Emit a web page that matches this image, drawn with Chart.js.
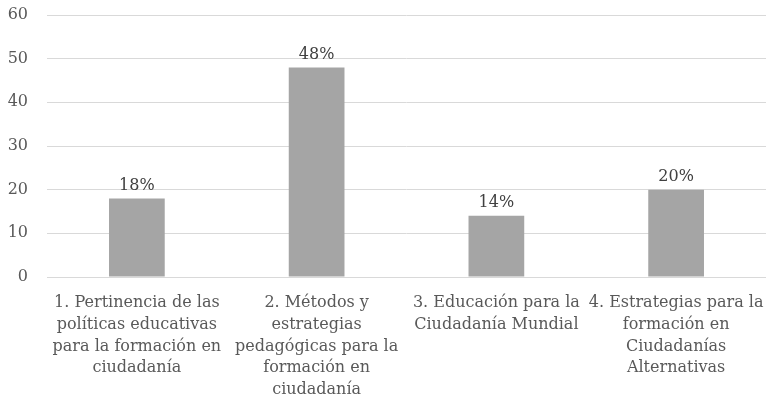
<!DOCTYPE html>
<html>
<head>
<meta charset="utf-8">
<script src="https://cdn.jsdelivr.net/npm/chart.js@4"></script>
<style>
  body { margin: 0; background: #fff; }
  #wrap { width: 766px; height: 419px; }
</style>
</head>
<body>
<div id="wrap"><canvas id="grafico"></canvas></div>
<script>
const categorias = [
    ['1. Pertinencia de las', 'políticas educativas', 'para la formación en', 'ciudadanía'],
    ['2. Métodos y', 'estrategias', 'pedagógicas para la', 'formación en', 'ciudadanía'],
    ['3. Educación para la', 'Ciudadanía Mundial'],
    ['4. Estrategias para la', 'formación en', 'Ciudadanías', 'Alternativas']
];
const valores = [18, 48, 14, 20];
const etiquetas = ['18%', '48%', '14%', '20%'];
const ticksY = [0, 10, 20, 30, 40, 50, 60];

const fuente = "'DejaVu Serif', 'Liberation Serif', serif";

// etiquetas encima das barras
const rotulos = {
    id: 'rotulos',
    afterDatasetsDraw(chart) {
        const { ctx } = chart;
        const meta = chart.getDatasetMeta(0);
        ctx.save();
        ctx.font = '16px ' + fuente;
        ctx.fillStyle = '#404040';
        ctx.textAlign = 'center';
        ctx.textBaseline = 'bottom';
        meta.data.forEach((bar, i) => {
            ctx.fillText(etiquetas[i], bar.x, bar.y - 5);
        });
        ctx.restore();
    }
};

const semPadding = s => {
    s.paddingTop = 0; s.paddingBottom = 0;
    s.paddingLeft = 0; s.paddingRight = 0;
};

const ctx = document.getElementById('grafico').getContext('2d');
new Chart(ctx, {
    type: 'bar',
    data: {
        labels: categorias,
        datasets: [{
            data: valores,
            backgroundColor: '#a5a5a5',
            barPercentage: 0.62,
            categoryPercentage: 0.5
        }]
    },
    options: {
        responsive: true,
        maintainAspectRatio: false,
        animation: false,
        layout: { padding: { top: 15, right: 0, left: 0, bottom: 0 } },
        plugins: {
            legend: { display: false },
            tooltip: { enabled: false }
        },
        scales: {
            x: {
                grid: { display: false },
                border: { color: '#d9d9d9', width: 1 },
                ticks: {
                    autoSkip: false,
                    maxRotation: 0,
                    minRotation: 0,
                    color: '#595959',
                    font: { family: fuente, size: 16, lineHeight: 1.36 },
                    padding: 7
                },
                afterFit: s => { s.height = 142; semPadding(s); }
            },
            y: {
                min: 0,
                max: 60,
                afterBuildTicks: s => { s.ticks = ticksY.map(v => ({ value: v })); },
                grid: { color: '#d9d9d9', drawTicks: false },
                border: { display: false },
                ticks: {
                    color: '#595959',
                    font: { family: fuente, size: 16 },
                    padding: 19
                },
                afterFit: s => { s.width = 47; semPadding(s); }
            }
        }
    },
    plugins: [rotulos]
});
</script>
</body>
</html>
